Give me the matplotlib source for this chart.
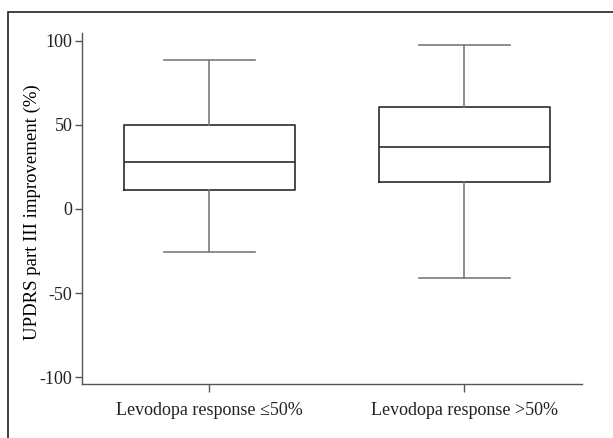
import matplotlib
matplotlib.use('Agg')
import matplotlib.pyplot as plt
from matplotlib.patches import Rectangle

plt.rcParams['font.family'] = ['Liberation Serif', 'DejaVu Serif']

# 数据：两组箱线图的五数概括
groups = ['Levodopa response \u226450%', 'Levodopa response >50%']
whisker_low = [-25.7, -41.0]
q1 = [11.5, 16.3]
median = [27.7, 36.7]
q3 = [50.1, 60.6]
whisker_high = [88.8, 97.3]

yticks = [-100, -50, 0, 50, 100]

stats = []
for i in range(len(groups)):
    stats.append({
        'label': groups[i],
        'whislo': whisker_low[i],
        'q1': q1[i],
        'med': median[i],
        'q3': q3[i],
        'whishi': whisker_high[i],
        'fliers': [],
    })

fig = plt.figure(figsize=(6.13, 4.38), dpi=100)
ax = fig.add_axes([0.1338, 0.1233, 0.8152, 0.8007])

box_col = '#2b2b2b'
whisk_col = '#7a7a7a'
ax.bxp(stats, positions=[1, 2], widths=0.67, showfliers=False,
       boxprops=dict(color=box_col, linewidth=1.2),
       medianprops=dict(color=box_col, linewidth=1.2),
       whiskerprops=dict(color=whisk_col, linewidth=1.2),
       capprops=dict(color=whisk_col, linewidth=1.2),
       capwidths=0.355)

ax.set_xlim(0.5, 2.46)
ax.set_ylim(-104, 104.4)
ax.set_yticks(yticks)
ax.set_yticklabels([str(t) for t in yticks])
ax.set_xticks([1, 2])
ax.set_xticklabels(groups)
ax.set_ylabel('UPDRS part III improvement (%)', fontsize=13.5)
ax.yaxis.set_label_coords(-0.082, 0.49)

ax.spines['top'].set_visible(False)
ax.spines['right'].set_visible(False)
for s in ['left', 'bottom']:
    ax.spines[s].set_color('#555555')
    ax.spines[s].set_linewidth(1.0)
ax.tick_params(axis='both', colors='#555555', labelcolor='#222222', labelsize=13, width=1.0)
ax.tick_params(axis='y', length=5, pad=2)
ax.tick_params(axis='x', length=6, pad=7)

# 外框（右、下被裁掉）
fig.patches.append(Rectangle((8 / 613, -0.1), 1.2, 1 - 12 / 438 + 0.1,
                             transform=fig.transFigure, fill=False,
                             edgecolor='#333333', linewidth=1.3))

plt.savefig('out.png', dpi=100)
plt.close()
